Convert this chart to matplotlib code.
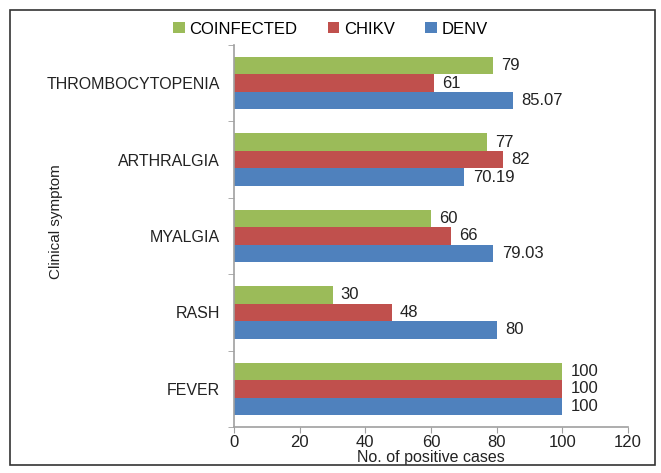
import matplotlib
matplotlib.use("Agg")
import matplotlib.pyplot as plt
import numpy as np
from matplotlib.patches import Rectangle

plt.rcParams['font.family'] = ['Liberation Sans', 'DejaVu Sans']

categories = ["FEVER", "RASH", "MYALGIA", "ARTHRALGIA", "THROMBOCYTOPENIA"]
denv = [100, 80, 79.03, 70.19, 85.07]
chikv = [100, 48, 66, 82, 61]
coinfected = [100, 30, 60, 77, 79]
denv_labels = ["100", "80", "79.03", "70.19", "85.07"]
chikv_labels = ["100", "48", "66", "82", "61"]
coinf_labels = ["100", "30", "60", "77", "79"]
xticks = [0, 20, 40, 60, 80, 100, 120]

colors = {"DENV": "#4F81BD", "CHIKV": "#C0504D", "COINFECTED": "#9BBB59"}

fig = plt.figure(figsize=(6.61, 4.73), dpi=100)
ax = fig.add_axes([234/661, 1-427/473, (628-234)/661, (427-45)/473])

y = np.arange(len(categories))
h = 0.228
b1 = ax.barh(y - h, denv, height=h, color=colors["DENV"], label="DENV")
b2 = ax.barh(y, chikv, height=h, color=colors["CHIKV"], label="CHIKV")
b3 = ax.barh(y + h, coinfected, height=h, color=colors["COINFECTED"], label="COINFECTED")

for bars, labs in [(b1, denv_labels), (b2, chikv_labels), (b3, coinf_labels)]:
    for bar, lab in zip(bars, labs):
        ax.text(bar.get_width() + 2.5, bar.get_y() + bar.get_height()/2, lab,
                va='center', ha='left', fontsize=12, color='#222222')

ax.set_xlim(0, 120)
ax.set_ylim(-0.5, len(categories) - 0.5)
ax.set_xticks(xticks)
ax.set_xticklabels([str(t) for t in xticks], fontsize=12, color='#222222')
ax.set_yticks(y)
ax.set_yticklabels(categories, fontsize=11.5, color='#222222')
ax.tick_params(axis='y', length=0, pad=10)
ax.set_yticks(np.arange(-0.5, len(categories)), minor=True)
ax.tick_params(axis='y', which='minor', length=4, color='#A0A0A0', direction='out')
ax.tick_params(axis='x', length=4, color='#A0A0A0', direction='out', pad=2)
for s in ['top', 'right']:
    ax.spines[s].set_visible(False)
for s in ['left', 'bottom']:
    ax.spines[s].set_color('#A0A0A0')
    ax.spines[s].set_linewidth(1.2)

ax.set_xlabel("No. of positive cases", fontsize=11.5, color='#222222', labelpad=0)
fig.text(56/661, 1-222/473, "Clinical symptom", rotation=90, fontsize=11,
         va='center', ha='center', color='#222222', fontstretch='condensed')

handles = [b3, b2, b1]
leg = fig.legend(handles, ["COINFECTED", "CHIKV", "DENV"], loc='center',
                 bbox_to_anchor=(0.5, 1-29/473), ncol=3, frameon=False,
                 fontsize=12, handlelength=0.7, handleheight=0.7,
                 handletextpad=0.3, columnspacing=1.8)

fig.patches.append(Rectangle((10/661, 1-465/473), 645/661, 455/473,
                             transform=fig.transFigure, fill=False,
                             edgecolor='#333333', linewidth=1.2))

fig.savefig("out.png", dpi=100)
